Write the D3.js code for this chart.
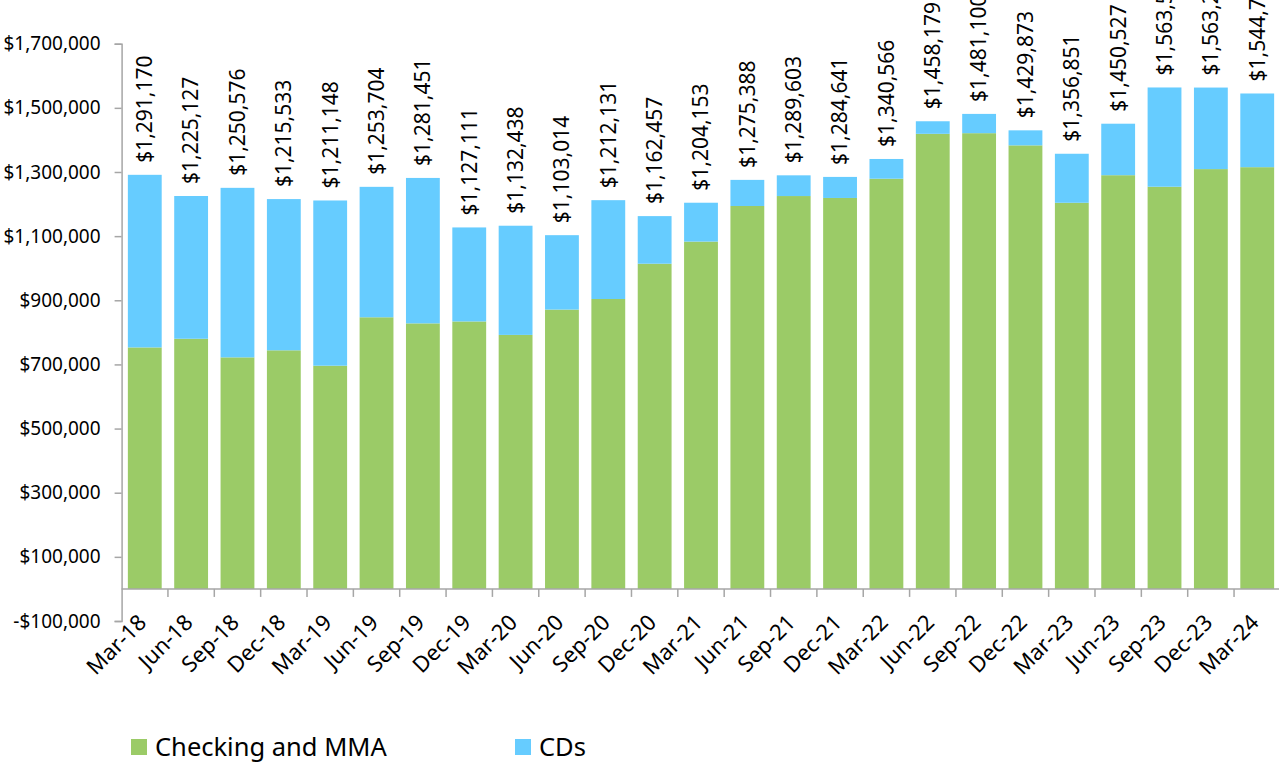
<!DOCTYPE html>
<html>
<head>
<meta charset="utf-8">
<script src="https://cdn.jsdelivr.net/npm/d3@7"></script>
<style>
  html, body { margin: 0; padding: 0; background: #fff; }
  svg { display: block; font-family: "Noto Sans", "Open Sans", sans-serif; }
</style>
</head>
<body>
<svg id="chart" width="1279" height="762"></svg>
<script>
const categories = ["Mar-18","Jun-18","Sep-18","Dec-18","Mar-19","Jun-19","Sep-19","Dec-19","Mar-20","Jun-20","Sep-20","Dec-20","Mar-21","Jun-21","Sep-21","Dec-21","Mar-22","Jun-22","Sep-22","Dec-22","Mar-23","Jun-23","Sep-23","Dec-23","Mar-24"];
const checkingMMA = [753000, 780000, 722000, 744000, 696000, 847000, 828000, 834000, 792000, 871000, 904000, 1014000, 1083000, 1194000, 1225000, 1219000, 1279000, 1419000, 1421000, 1383000, 1204000, 1290000, 1254000, 1309000, 1315000];
const cds = [538170, 445127, 528576, 471533, 515148, 406704, 453451, 293111, 340438, 232014, 308131, 148457, 121153, 81388, 64603, 65641, 61566, 39179, 60100, 46873, 152851, 160527, 309530, 254250, 229760];
const yTicks = [-100000, 100000, 300000, 500000, 700000, 900000, 1100000, 1300000, 1500000, 1700000];
const seriesNames = ["Checking and MMA", "CDs"];
const colors = ["#9BCB67", "#66CCFF"];

const svg = d3.select("#chart");
const x = d3.scaleBand().domain(categories).range([121.6, 1280.4]).paddingInner(0.27).paddingOuter(0.135);
const y = d3.scaleLinear().domain([-100000, 1700000]).range([621, 43.7]);

const rows = categories.map((c, i) => ({cat: c, "Checking and MMA": checkingMMA[i], "CDs": cds[i]}));
const stacked = d3.stack().keys(seriesNames)(rows);

// bars
stacked.forEach((layer, li) => {
  svg.append("g").selectAll("rect").data(layer).join("rect")
    .attr("x", d => x(d.data.cat))
    .attr("width", x.bandwidth())
    .attr("y", d => y(d[1]))
    .attr("height", d => y(d[0]) - y(d[1]))
    .attr("fill", colors[li]);
});

// y axis
const yAxis = d3.axisLeft(y).tickValues(yTicks).tickSize(7).tickPadding(14)
  .tickFormat(v => (v < 0 ? "-$" : "$") + d3.format(",")(Math.abs(v)));
const gy = svg.append("g").attr("transform", "translate(121.6,0)").call(yAxis);
gy.select(".domain").attr("stroke", "#a6a6a6").attr("stroke-width", 1.5);
gy.selectAll(".tick line").attr("stroke", "#a6a6a6").attr("stroke-width", 1.5);
gy.selectAll(".tick text").attr("font-size", 19).attr("fill", "#000").attr("font-family", "Noto Sans");

// x axis at zero
const step = x.step();
const gx = svg.append("g").attr("transform", `translate(0,${y(0)})`);
gx.append("line").attr("x1", 121.6).attr("x2", 1280).attr("y1", 0).attr("y2", 0)
  .attr("stroke", "#a6a6a6").attr("stroke-width", 1.5);
gx.selectAll("line.tk").data(categories.slice(1)).join("line").attr("class", "tk")
  .attr("x1", d => x(d) - (step - x.bandwidth()) / 2)
  .attr("x2", d => x(d) - (step - x.bandwidth()) / 2)
  .attr("y1", 0).attr("y2", 8)
  .attr("stroke", "#a6a6a6").attr("stroke-width", 1.5);
gx.selectAll("text").data(categories).join("text")
  .attr("transform", d => `translate(${x(d) + x.bandwidth() / 2 + 3},${35}) rotate(-45)`)
  .attr("text-anchor", "end")
  .attr("font-size", 22)
  .text(d => d);

// totals labels
svg.append("g").selectAll("text").data(rows).join("text")
  .attr("transform", d => `translate(${x(d.cat) + x.bandwidth() / 2},${y(d["Checking and MMA"] + d["CDs"]) - 12}) rotate(-90)`)
  .attr("dy", "0.35em")
  .attr("font-size", 21)
  .attr("text-anchor", "start")
  .text(d => "$" + d3.format(",")(d["Checking and MMA"] + d["CDs"]));

// legend
const legendX = [131, 515];
const lg = svg.append("g");
seriesNames.forEach((n, i) => {
  lg.append("rect").attr("x", legendX[i]).attr("y", 739).attr("width", 16).attr("height", 16).attr("fill", colors[i]);
  lg.append("text").attr("x", legendX[i] + 24).attr("y", 755.5).attr("font-size", 25.5).text(n);
});
</script>
</body>
</html>
